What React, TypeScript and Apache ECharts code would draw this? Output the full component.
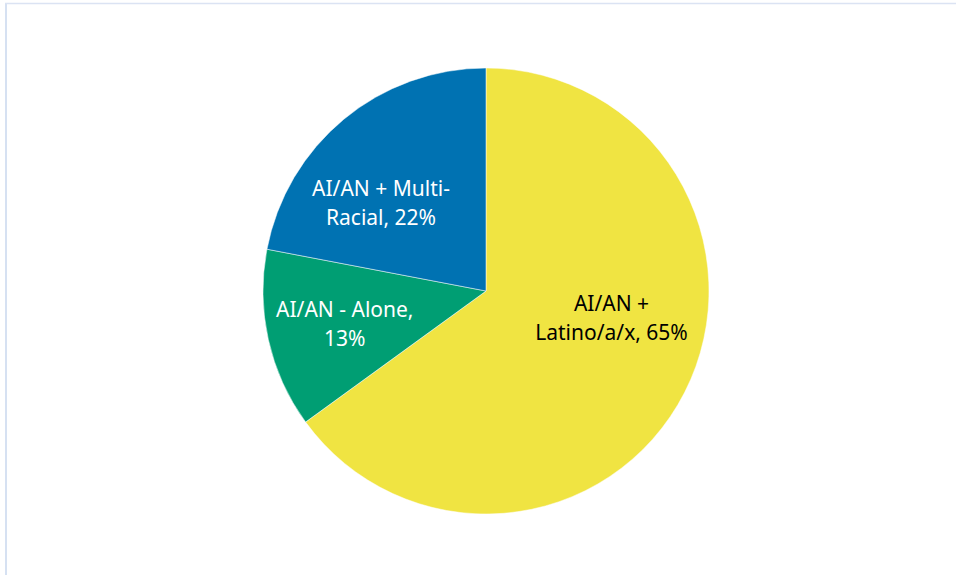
import React, { useEffect, useRef } from "react";
import * as echarts from "echarts";

const categories = ["AI/AN + Latino/a/x", "AI/AN - Alone", "AI/AN + Multi-Racial"];
const labelTexts = ["AI/AN +\nLatino/a/x, 65%", "AI/AN - Alone,\n13%", "AI/AN + Multi-\nRacial, 22%"];
const values = [65, 13, 22];
const colors = ["#F0E442", "#009E73", "#0072B2"];
const labelColors = ["#000000", "#ffffff", "#ffffff"];
const labelShift = [
  [23.5, -25],
  [-29.5, 8],
  [-32, 0],
];

export default function App() {
  const ref = useRef<HTMLDivElement>(null);
  useEffect(() => {
    if (!ref.current) return;
    const chart = echarts.init(ref.current, null, { renderer: "svg" });
    chart.setOption({
      animation: false,
      backgroundColor: "#ffffff",
      graphic: [
        { type: "line", shape: { x1: 6, y1: 3, x2: 6, y2: 575 }, style: { stroke: "#d6e1f2", lineWidth: 2 } },
        { type: "line", shape: { x1: 5, y1: 3.5, x2: 956, y2: 3.5 }, style: { stroke: "#dbe3f3", lineWidth: 1.5 } },
      ],
      series: [
        {
          type: "pie",
          center: [486, 291],
          radius: 223,
          startAngle: 90,
          clockwise: true,
          itemStyle: { borderColor: "#ffffff", borderWidth: 0.5 },
          label: {
            show: true,
            position: "inside",
            fontFamily: "Noto Sans",
            fontSize: 21,
            lineHeight: 29,
            align: "center",
          },
          labelLayout: (p: any) => ({ dx: labelShift[p.dataIndex][0], dy: labelShift[p.dataIndex][1] }),
          data: values.map((v, i) => ({
            value: v,
            name: categories[i],
            itemStyle: { color: colors[i] },
            label: { formatter: labelTexts[i], color: labelColors[i] },
          })),
        },
      ],
    });
    return () => chart.dispose();
  }, []);
  return <div ref={ref} style={{ position: "absolute", left: 0, top: 0, width: 956, height: 575 }} />;
}
